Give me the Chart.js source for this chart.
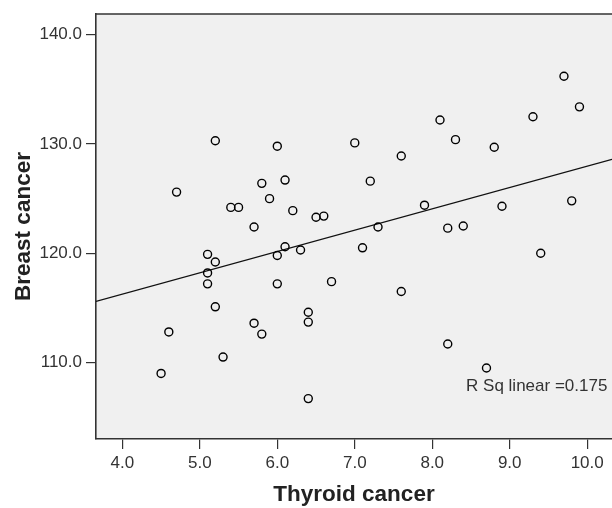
<!DOCTYPE html>
<html>
<head>
<meta charset="utf-8">
<script src="https://cdn.jsdelivr.net/npm/chart.js@4/dist/chart.umd.min.js"></script>
<style>
  html, body { margin: 0; padding: 0; background: #fff; }
  #wrap { width: 612px; height: 508px; }
</style>
</head>
<body>
<div id="wrap"><canvas id="myChart"></canvas></div>
<script>
// values
let thyroid = [4.5, 4.6, 4.7, 5.1, 5.1, 5.1, 5.2, 5.2, 5.2, 5.3,
               5.4, 5.5, 5.7, 5.7, 5.8, 5.8, 5.9, 6.0, 6.0, 6.0,
               6.1, 6.1, 6.2, 6.3, 6.4, 6.4, 6.4, 6.5, 6.6, 6.7,
               7.0, 7.1, 7.2, 7.3, 7.6, 7.6, 7.9, 8.1, 8.2, 8.2,
               8.3, 8.4, 8.7, 8.8, 8.9, 9.3, 9.4, 9.7, 9.8, 9.9];
let breast = [109.0, 112.8, 125.6, 119.9, 118.2, 117.2, 130.3, 119.2, 115.1, 110.5,
              124.2, 124.2, 122.4, 113.6, 126.4, 112.6, 125.0, 129.8, 119.8, 117.2,
              126.7, 120.6, 123.9, 120.3, 114.6, 113.7, 106.7, 123.3, 123.4, 117.4,
              130.1, 120.5, 126.6, 122.4, 128.9, 116.5, 124.4, 132.2, 122.3, 111.7,
              130.4, 122.5, 109.5, 129.7, 124.3, 132.5, 120.0, 136.2, 124.8, 133.4];

// fit line ends
let fitX = [3.66, 10.32];
let fitY = [115.6, 128.6];
let rSqText = 'R Sq linear =0.175';

let xTicks = [4, 5, 6, 7, 8, 9, 10];
let yTicks = [110, 120, 130, 140];

let points = thyroid.map((v, i) => ({ x: v, y: breast[i] }));
let fitLine = fitX.map((v, i) => ({ x: v, y: fitY[i] }));

let fontFam = '"Liberation Sans", Arial, sans-serif';

let myChart = new Chart(document.getElementById('myChart'), {
    type: 'scatter',
    data: {
        datasets: [
            {
                data: points,
                pointStyle: 'circle',
                pointRadius: 4.0,
                pointBorderWidth: 1.4,
                borderColor: '#000',
                backgroundColor: 'rgba(0,0,0,0)'
            },
            {
                type: 'line',
                data: fitLine,
                borderColor: '#111',
                borderWidth: 1.2,
                pointRadius: 0,
                tension: 0
            }
        ]
    },
    options: {
        responsive: true,
        maintainAspectRatio: false,
        animation: false,
        layout: { autoPadding: false, padding: { top: 14, right: 0, bottom: 0, left: 0 } },
        plugins: {
            legend: { display: false },
            tooltip: { enabled: false }
        },
        scales: {
            x: {
                type: 'linear',
                min: 3.66,
                max: 10.32,
                afterBuildTicks: s => { s.ticks = xTicks.map(v => ({ value: v })); },
                afterFit: s => { s.height = 69; s.paddingRight = 0; s.paddingLeft = 0; },
                grid: { drawOnChartArea: false, drawTicks: true, tickLength: 10, color: '#333', lineWidth: 1.2 },
                border: { display: true, color: '#333', width: 1.6 },
                ticks: {
                    padding: 4,
                    color: '#333',
                    font: { family: fontFam, size: 17 },
                    callback: v => v.toFixed(1)
                },
                title: {
                    display: true,
                    text: 'Thyroid cancer',
                    color: '#222',
                    padding: { top: 0, bottom: 0 },
                    font: { family: fontFam, size: 22.5, weight: 'bold' }
                }
            },
            y: {
                min: 103.0,
                max: 141.9,
                afterBuildTicks: s => { s.ticks = yTicks.map(v => ({ value: v })); },
                afterFit: s => { s.width = 96; s.paddingTop = 0; s.paddingBottom = 0; },
                grid: { drawOnChartArea: false, drawTicks: true, tickLength: 10, color: '#333', lineWidth: 1.2 },
                border: { display: true, color: '#333', width: 1.6 },
                ticks: {
                    padding: 4,
                    color: '#333',
                    font: { family: fontFam, size: 17 },
                    callback: v => v.toFixed(1)
                },
                title: {
                    display: true,
                    text: 'Breast cancer',
                    color: '#222',
                    padding: { top: 10, bottom: 0 },
                    font: { family: fontFam, size: 22.5, weight: 'bold' }
                }
            }
        }
    },
    plugins: [
        {
            // plot background + top frame
            id: 'plotBg',
            beforeDraw: function(c) {
                let a = c.chartArea;
                let ctx = c.ctx;
                ctx.save();
                ctx.fillStyle = '#f0f0f0';
                ctx.fillRect(a.left, a.top, a.right - a.left, a.bottom - a.top);
                ctx.restore();
            },
            afterDraw: function(c) {
                let a = c.chartArea;
                let ctx = c.ctx;
                ctx.save();
                ctx.strokeStyle = '#333';
                ctx.lineWidth = 1.6;
                ctx.beginPath();
                ctx.moveTo(a.left, a.top);
                ctx.lineTo(a.right, a.top);
                ctx.stroke();
                ctx.restore();
            }
        },
        {
            // R Sq label
            id: 'rsq',
            afterDatasetsDraw: function(c) {
                let ctx = c.ctx;
                let xs = c.scales.x, ys = c.scales.y;
                ctx.save();
                ctx.fillStyle = '#333';
                ctx.font = '17px ' + fontFam;
                ctx.textAlign = 'right';
                ctx.textBaseline = 'middle';
                ctx.fillText(rSqText, xs.getPixelForValue(10.26), ys.getPixelForValue(107.8));
                ctx.restore();
            }
        }
    ]
});
</script>
</body>
</html>
